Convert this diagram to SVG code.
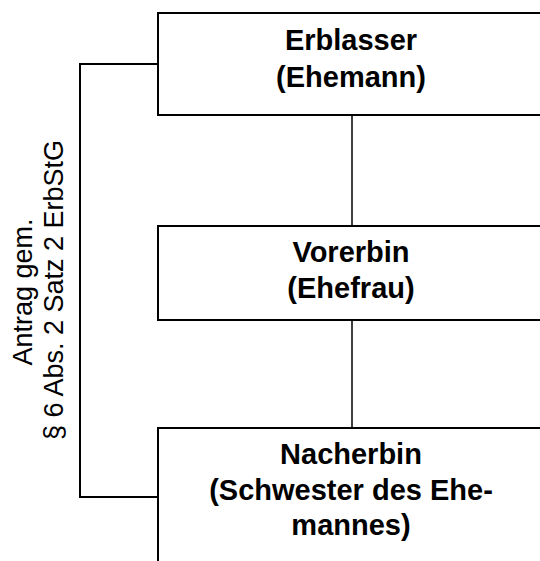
<svg xmlns="http://www.w3.org/2000/svg" width="540" height="561" viewBox="0 0 540 561">
<style>
.box{fill:#fff;stroke:#000;stroke-width:2}
.t{font-family:"Liberation Sans",Arial,sans-serif;font-weight:bold;font-size:29px;text-anchor:middle;fill:#000}
.r{font-family:"Liberation Sans",Arial,sans-serif;font-size:27px;text-anchor:middle;fill:#000}
.c{fill:none;stroke:#000;stroke-width:1.5}
.b{fill:none;stroke:#000;stroke-width:2}
</style>
<rect width="540" height="561" fill="#fff"/>
<g id="connectors">
<line class="c" x1="352" y1="115" x2="352" y2="226"/>
<line class="c" x1="352" y1="320" x2="352" y2="428"/>
<polyline class="b" points="158,64 80,64 80,497 158,497"/>
</g>
<g id="erblasser">
<rect class="box" x="158" y="13" width="390" height="102"/>
<text class="t" x="351" y="50">Erblasser</text>
<text class="t" x="351" y="87">(Ehemann)</text>
</g>
<g id="vorerbin">
<rect class="box" x="158" y="226" width="390" height="94"/>
<text class="t" x="351" y="262">Vorerbin</text>
<text class="t" x="351" y="298">(Ehefrau)</text>
</g>
<g id="nacherbin">
<rect class="box" x="158" y="428" width="390" height="150"/>
<text class="t" x="351" y="464">Nacherbin</text>
<text class="t" x="351" y="500">(Schwester des Ehe-</text>
<text class="t" x="351" y="535">mannes)</text>
</g>
<g id="label">
<text class="r" transform="translate(32,292) rotate(-90)">Antrag gem.</text>
<text class="r" transform="translate(63,290) rotate(-90)">§ 6 Abs. 2 Satz 2 ErbStG</text>
</g>
</svg>
